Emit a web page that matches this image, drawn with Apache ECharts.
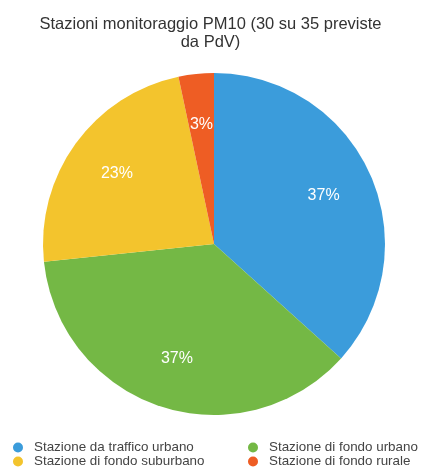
<!DOCTYPE html>
<html>
<head>
<meta charset="utf-8">
<script src="https://cdn.jsdelivr.net/npm/echarts@6/dist/echarts.min.js"></script>
<style>
  html, body { margin: 0; padding: 0; background: #fff; }
  #chart { width: 421px; height: 469px; }
</style>
</head>
<body>
<div id="chart"></div>
<script>
// numero di stazioni per tipologia (30 totali)
const categories = ['Stazione da traffico urbano', 'Stazione di fondo urbano', 'Stazione di fondo suburbano', 'Stazione di fondo rurale'];
const stations = [11, 11, 7, 1];
const colors = ['#3b9cdb', '#74b845', '#f3c42d', '#ee5d24'];

const pieData = categories.map((name, i) => ({ name: name, value: stations[i] }));
const font = 'Liberation Sans, Arial, sans-serif';

const legendStyle = {
    orient: 'vertical',
    top: 441,
    padding: 0,
    icon: 'circle', itemWidth: 10, itemHeight: 10, itemGap: 1,
    textStyle: { fontSize: 13.4, lineHeight: 13, color: '#444', fontFamily: font, padding: [0, 0, 0, 6] }
};

const myChart = echarts.init(document.getElementById('chart'));
myChart.setOption({
    animation: false,
    color: colors,
    title: {
        text: 'Stazioni monitoraggio PM10 (30 su 35 previste\nda PdV)',
        left: 'center',
        top: 15,
        padding: [0, 0, 0, 8],
        textStyle: { fontSize: 16.5, fontWeight: 'normal', color: '#333', fontFamily: font, lineHeight: 18 }
    },
    legend: [
        Object.assign({ data: [categories[0], categories[2]], left: 13 }, legendStyle),
        Object.assign({ data: [categories[1], categories[3]], left: 248 }, legendStyle)
    ],
    series: [
        {
            type: 'pie',
            center: [214, 244],
            radius: [0, 171],
            startAngle: 90,
            percentPrecision: 0,
            label: { show: false },
            labelLine: { show: false },
            data: pieData
        },
        {
            // serie trasparente solo per posizionare le etichette
            type: 'pie',
            center: [214, 244],
            radius: [0, 234],
            startAngle: 90,
            silent: true,
            percentPrecision: 0,
            itemStyle: { color: 'rgba(0,0,0,0)' },
            label: {
                show: true,
                position: 'inside',
                formatter: '{d}%',
                color: '#fff',
                fontSize: 16,
                fontFamily: font
            },
            labelLine: { show: false },
            data: pieData
        }
    ]
});
</script>
</body>
</html>
